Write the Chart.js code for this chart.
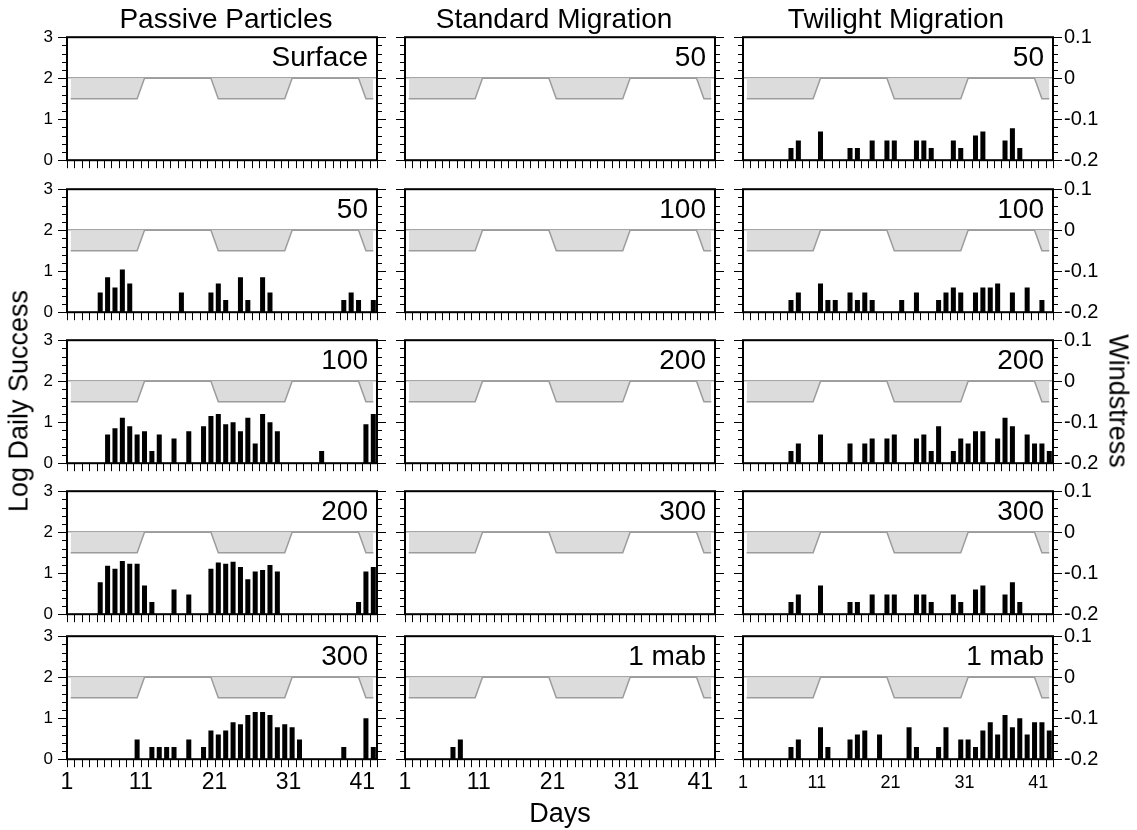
<!DOCTYPE html>
<html>
<head>
<meta charset="utf-8">
<title>Log daily success and windstress</title>
<script src="https://cdn.jsdelivr.net/npm/chart.js"></script>
<style>
  body { margin: 0; background: #fff; }
  #fig { position: relative; width: 1137px; height: 830px; overflow: hidden;
         font-family: "Liberation Sans", Arial, Helvetica, sans-serif; color: #000; }
  #fig canvas { position: absolute; }
  .txt { position: absolute; white-space: nowrap; line-height: 1; font-size: 28px; }
  .axis-title { font-size: 27px; }
</style>
</head>
<body>
<div id="fig"></div>
<script>
// days of the run, one bar slot per day
const days = Array.from({ length: 42 }, (_, i) => i + 1);
const dayLabels = [1, 11, 21, 31, 41];

// daily windstress (right axis)
const windstress = [
  -0.05, -0.05, -0.05, -0.05, -0.05, -0.05, -0.05, -0.05, -0.05, -0.05,
  0, 0, 0, 0, 0, 0, 0, 0, 0, 0,
  -0.05, -0.05, -0.05, -0.05, -0.05, -0.05, -0.05, -0.05, -0.05, -0.05,
  0, 0, 0, 0, 0, 0, 0, 0, 0, 0,
  -0.05, -0.05
];

// log daily success, days 1-42
const passiveSurface = [
  0, 0, 0, 0, 0, 0, 0, 0, 0, 0,
  0, 0, 0, 0, 0, 0, 0, 0, 0, 0,
  0, 0, 0, 0, 0, 0, 0, 0, 0, 0,
  0, 0, 0, 0, 0, 0, 0, 0, 0, 0,
  0, 0
];
const passive50 = [
  0, 0, 0, 0, 0.48, 0.85, 0.6, 1.04, 0.7, 0,
  0, 0, 0, 0, 0, 0.48, 0, 0, 0, 0.48,
  0.7, 0.3, 0, 0.85, 0.3, 0, 0.85, 0.48, 0, 0,
  0, 0, 0, 0, 0, 0, 0, 0.3, 0.48, 0.3,
  0, 0.3
];
const passive100 = [
  0, 0, 0, 0, 0, 0.7, 0.85, 1.11, 0.9, 0.7,
  0.78, 0.3, 0.7, 0, 0.6, 0, 0.78, 0, 0.9, 1.15,
  1.2, 0.95, 1.0, 0.78, 1.11, 0.48, 1.2, 1.0, 0.78, 0,
  0, 0, 0, 0, 0.3, 0, 0, 0, 0, 0,
  0.95, 1.2
];
const passive200 = [
  0, 0, 0, 0, 0.78, 1.18, 1.11, 1.3, 1.23, 1.23,
  0.7, 0.3, 0, 0, 0.6, 0, 0.48, 0, 0, 1.11,
  1.26, 1.23, 1.28, 1.15, 0.85, 1.04, 1.08, 1.2, 1.04, 0,
  0, 0, 0, 0, 0, 0, 0, 0, 0, 0.3,
  1.04, 1.15
];
const passive300 = [
  0, 0, 0, 0, 0, 0, 0, 0, 0, 0.48,
  0, 0.3, 0.3, 0.3, 0.3, 0, 0.48, 0, 0.3, 0.7,
  0.6, 0.7, 0.9, 0.85, 1.08, 1.15, 1.15, 1.08, 0.78, 0.85,
  0.78, 0.48, 0, 0, 0, 0, 0, 0.3, 0, 0,
  1.0, 0.3
];
const standard50 = passiveSurface;
const standard100 = passiveSurface;
const standard200 = passiveSurface;
const standard300 = passiveSurface;
const standardMab = [
  0, 0, 0, 0, 0, 0, 0.3, 0.48, 0, 0,
  0, 0, 0, 0, 0, 0, 0, 0, 0, 0,
  0, 0, 0, 0, 0, 0, 0, 0, 0, 0,
  0, 0, 0, 0, 0, 0, 0, 0, 0, 0,
  0, 0
];
const twilight50 = [
  0, 0, 0, 0, 0, 0, 0.3, 0.48, 0, 0,
  0.7, 0, 0, 0, 0.3, 0.3, 0, 0.48, 0, 0.48,
  0.48, 0, 0, 0.48, 0.48, 0.3, 0, 0, 0.48, 0.3,
  0, 0.6, 0.7, 0, 0, 0.48, 0.78, 0.3, 0, 0,
  0, 0
];
const twilight100 = [
  0, 0, 0, 0, 0, 0, 0.3, 0.48, 0, 0,
  0.7, 0.3, 0.3, 0, 0.48, 0.3, 0.48, 0.3, 0, 0,
  0, 0.3, 0, 0.48, 0, 0, 0.3, 0.48, 0.6, 0.48,
  0, 0.48, 0.6, 0.6, 0.7, 0, 0.48, 0, 0.6, 0,
  0.3, 0
];
const twilight200 = [
  0, 0, 0, 0, 0, 0, 0.3, 0.48, 0, 0,
  0.7, 0, 0, 0, 0.48, 0, 0.48, 0.6, 0, 0.6,
  0.7, 0, 0, 0.6, 0.7, 0.3, 0.9, 0, 0.3, 0.6,
  0.48, 0.78, 0.78, 0, 0.6, 1.11, 0.9, 0, 0.7, 0.48,
  0.48, 0.3
];
const twilight300 = [
  0, 0, 0, 0, 0, 0, 0.3, 0.48, 0, 0,
  0.7, 0, 0, 0, 0.3, 0.3, 0, 0.48, 0, 0.48,
  0.48, 0, 0, 0.48, 0.48, 0.3, 0, 0, 0.48, 0.3,
  0, 0.6, 0.7, 0, 0, 0.48, 0.78, 0.3, 0, 0,
  0, 0
];
const twilightMab = [
  0, 0, 0, 0, 0, 0, 0.3, 0.48, 0, 0,
  0.78, 0.3, 0, 0, 0.48, 0.6, 0.7, 0, 0.6, 0,
  0, 0, 0.78, 0.3, 0, 0, 0.3, 0.78, 0, 0.48,
  0.48, 0.3, 0.7, 0.9, 0.6, 1.08, 0.78, 1.0, 0.6, 0.9,
  0.9, 0.7
];

const columnTitles = ["Passive Particles", "Standard Migration", "Twilight Migration"];
const depthLabels = [
  ["Surface", "50", "100", "200", "300"],
  ["50", "100", "200", "300", "1 mab"],
  ["50", "100", "200", "300", "1 mab"],
];
const successByColumn = [
  [passiveSurface, passive50, passive100, passive200, passive300],
  [standard50, standard100, standard200, standard300, standardMab],
  [twilight50, twilight100, twilight200, twilight300, twilightMab],
];

// panel placement
const colLeft = [67, 405, 743];
const titleCenter = [226, 554, 896];
const rowTop = [37, 189, 340, 491, 636];
const plotW = 310, plotH = 123;
const padSide = 60, padTop = 16, padBottom = 45;

const FONT = '"Liberation Sans", Arial, Helvetica, sans-serif';
Chart.defaults.font.family = FONT;
Chart.defaults.color = "#000";

const fig = document.getElementById("fig");
const isWhole = (v) => Math.abs(v - Math.round(v)) < 1e-6;

function stroke(ctx, x1, y1, x2, y2) {
  ctx.beginPath();
  ctx.moveTo(x1, y1);
  ctx.lineTo(x2, y2);
  ctx.stroke();
}

// box around the plot plus outward tick marks on every side but the top
const panelFrame = {
  id: "panelFrame",
  afterDraw(chart) {
    const { ctx, chartArea: a, scales } = chart;
    ctx.save();
    ctx.strokeStyle = "#000";
    ctx.lineWidth = 1;
    scales.y.ticks.forEach((t) => {
      const py = Math.round(scales.y.getPixelForValue(t.value)) + 0.5;
      const len = isWhole(t.value) ? 9 : 5;
      stroke(ctx, a.left - len, py, a.left, py);
      stroke(ctx, a.right, py, a.right + len, py);
    });
    scales.x.ticks.forEach((t) => {
      const px = Math.round(scales.x.getPixelForValue(t.value)) + 0.5;
      stroke(ctx, px, a.bottom, px, a.bottom + 8);
    });
    ctx.lineWidth = 2;
    ctx.strokeRect(a.left, a.top, a.right - a.left, a.bottom - a.top);
    ctx.restore();
  },
};

function makePanel(col, row) {
  const canvas = document.createElement("canvas");
  const w = plotW + 2 * padSide;
  const h = plotH + padTop + padBottom;
  canvas.width = w;
  canvas.height = h;
  canvas.style.width = w + "px";
  canvas.style.height = h + "px";
  fig.appendChild(canvas);

  const bottomRow = row === 4;
  const narrowLabels = col === 2;

  const chart = new Chart(canvas.getContext("2d"), {
    type: "bar",
    data: {
      labels: days,
      datasets: [
        {
          type: "bar",
          data: successByColumn[col][row],
          xAxisID: "xBar",
          yAxisID: "y",
          backgroundColor: "#000",
          barPercentage: 0.68,
          categoryPercentage: 1,
          order: 0,
        },
        {
          type: "line",
          data: windstress,
          xAxisID: "xBar",
          yAxisID: "y1",
          borderColor: "#9c9c9c",
          borderWidth: 1.5,
          backgroundColor: "#dcdcdc",
          fill: { value: 0 },
          pointRadius: 0,
          tension: 0,
          order: 1,
        },
      ],
    },
    options: {
      responsive: false,
      maintainAspectRatio: false,
      animation: false,
      devicePixelRatio: 1,
      layout: { padding: { top: padTop, left: 0, right: 0, bottom: 0 } },
      plugins: { legend: { display: false }, tooltip: { enabled: false } },
      scales: {
        x: {
          type: "linear",
          position: "bottom",
          min: 1,
          max: 43,
          offset: false,
          grid: { display: false, drawTicks: false },
          border: { display: false },
          ticks: {
            display: bottomRow,
            stepSize: 1,
            autoSkip: false,
            maxRotation: 0,
            padding: narrowLabels ? 13 : 10,
            font: { size: narrowLabels ? 18 : 23 },
            callback: (v) => (dayLabels.includes(v) ? String(v) : ""),
          },
          afterFit: (s) => { s.height = padBottom; },
        },
        xBar: { type: "category", display: false, offset: true },
        y: {
          position: "left",
          min: 0,
          max: 3,
          grid: { display: false, drawTicks: false },
          border: { display: false },
          ticks: {
            stepSize: 0.2,
            autoSkip: false,
            padding: 14,
            font: { size: 17 },
            color: col === 0 ? "#000" : "rgba(0,0,0,0)",
            callback: (v) => (isWhole(v) ? String(Math.round(v)) : ""),
          },
          afterFit: (s) => { s.width = padSide; },
        },
        y1: {
          position: "right",
          min: -0.2,
          max: 0.1,
          z: 1,
          grid: {
            drawOnChartArea: true,
            drawTicks: false,
            lineWidth: 1.5,
            color: (c) => (c.tick && Math.abs(c.tick.value) < 1e-9 ? "#a6a6a6" : "rgba(0,0,0,0)"),
          },
          border: { display: false },
          ticks: {
            stepSize: 0.1,
            padding: 11,
            font: { size: 20 },
            color: col === 2 ? "#000" : "rgba(0,0,0,0)",
            callback: (v) => String(+v.toFixed(1)),
          },
          afterFit: (s) => { s.width = padSide; },
        },
      },
    },
    plugins: [panelFrame],
  });

  // pin the plot box to its slot in the figure
  const a = chart.chartArea;
  const extra = a.bottom - a.top - plotH;
  if (Math.abs(extra) > 0.01) chart.resize(w, h - extra);
  canvas.style.left = colLeft[col] - chart.chartArea.left + "px";
  canvas.style.top = rowTop[row] - chart.chartArea.top + "px";
  return chart;
}

function addText(text, left, top, transform, cls) {
  const el = document.createElement("div");
  el.className = cls ? "txt " + cls : "txt";
  el.textContent = text;
  el.style.left = left + "px";
  el.style.top = top + "px";
  if (transform) el.style.transform = transform;
  fig.appendChild(el);
  return el;
}

for (let col = 0; col < 3; col++) {
  for (let row = 0; row < 5; row++) {
    makePanel(col, row);
    addText(depthLabels[col][row], colLeft[col] + plotW - 9, rowTop[row] + 6, "translateX(-100%)");
  }
  addText(columnTitles[col], titleCenter[col], 5, "translateX(-50%)");
}

addText("Log Daily Success", 19, 401, "translate(-50%, -50%) rotate(-90deg)", "axis-title");
addText("Windstress", 1118, 401, "translate(-50%, -50%) rotate(90deg)", "axis-title");
addText("Days", colLeft[1] + plotW / 2, 800, "translateX(-50%)", "axis-title");
</script>
</body>
</html>
